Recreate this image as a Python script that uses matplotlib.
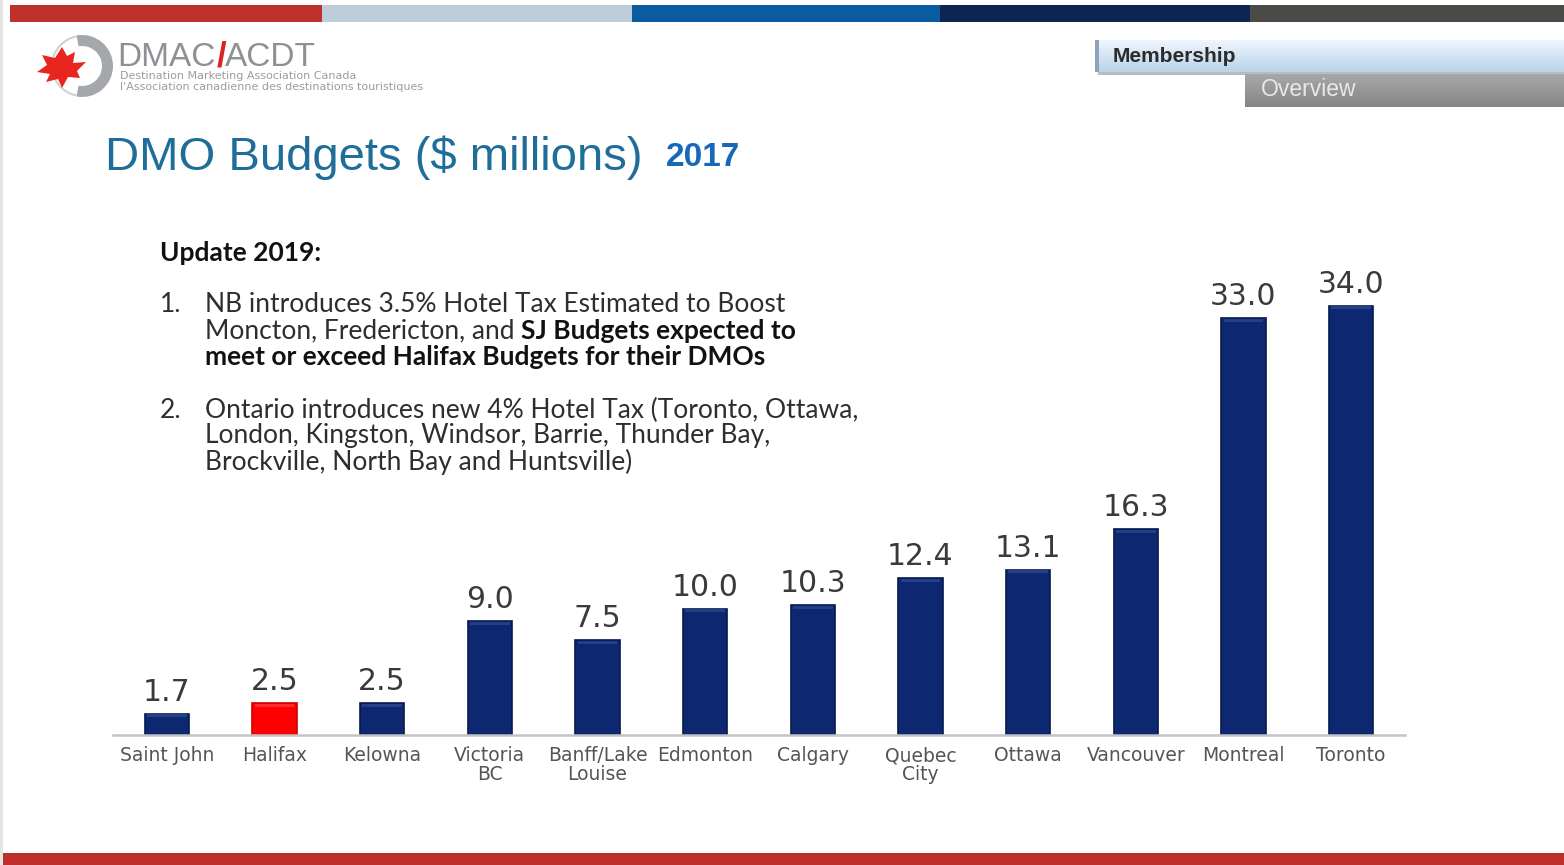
import matplotlib
matplotlib.use("Agg")
import matplotlib.pyplot as plt
from matplotlib.patches import Rectangle, Wedge, Polygon
import numpy as np

# ---- data ----
cities = ["Saint John", "Halifax", "Kelowna", "Victoria\nBC", "Banff/Lake\nLouise",
          "Edmonton", "Calgary", "Quebec\nCity", "Ottawa", "Vancouver", "Montreal", "Toronto"]
budgets = [1.7, 2.5, 2.5, 9.0, 7.5, 10.0, 10.3, 12.4, 13.1, 16.3, 33.0, 34.0]
highlight = "Halifax"

title_text = "DMO Budgets ($ millions)"
year_text = "2017"

W, H = 1564, 865
fig = plt.figure(figsize=(W / 100, H / 100), dpi=100)
fig.patch.set_facecolor("white")

# overlay axes in pixel coordinates
ov = fig.add_axes([0, 0, 1, 1])
ov.set_xlim(0, W)
ov.set_ylim(H, 0)
ov.axis("off")


def right_edge(t):
    fig.canvas.draw()
    bb = t.get_window_extent()
    return ov.transData.inverted().transform((bb.x1, bb.y0))[0]


# top stripe
stripe = [(10, 322, "#C0302C"), (322, 632, "#BFCCD9"), (632, 940, "#0A5CA0"),
          (940, 1250, "#0B2650"), (1250, 1564, "#4A4A46")]
for x0, x1, c in stripe:
    ov.add_patch(Rectangle((x0, 5), x1 - x0, 17, color=c, lw=0))
# bottom stripe
ov.add_patch(Rectangle((3, 853), W - 3, 12, color="#BE2E2A", lw=0))
ov.add_patch(Rectangle((0, 0), 3, H, color="#E4E4E4", lw=0))

# logo: crescent + maple leaf + text
ov.add_patch(Wedge((82, 66), 31, -100, 100, width=11, color="#A4A7AC", lw=0))
ov.add_patch(Wedge((82, 66), 31, 100, 260, width=2, color="#CDD0D3", lw=0))
leaf = np.array([[62, 47], [67, 56], [75, 52], [73, 63], [86, 62], [77, 71], [80, 78],
                 [68, 77], [62, 88], [58, 79], [46, 82], [50, 74], [37, 72], [47, 65],
                 [42, 55], [55, 58]])
ov.add_patch(Polygon(leaf, closed=True, color="#E8261E", lw=0))
t = ov.text(117, 57, "DMAC", fontsize=24, color="#8E9094", family="Liberation Sans",
            va="center", ha="left")
xe = right_edge(t)
t = ov.text(xe + 1, 57, "/", fontsize=25, color="#D8261E", family="Liberation Sans",
            va="center", ha="left", fontweight="bold")
xe = right_edge(t)
ov.text(xe - 1, 57, "ACDT", fontsize=24, color="#8E9094", family="Liberation Sans",
        va="center", ha="left")
ov.text(120, 76, "Destination Marketing Association Canada", fontsize=8,
        color="#9A9CA0", va="center", ha="left", family="Liberation Sans Narrow")
ov.text(120, 87, "l'Association canadienne des destinations touristiques", fontsize=8,
        color="#9A9CA0", va="center", ha="left", family="Liberation Sans Narrow")

# tabs
grad = np.linspace(0, 1, 32).reshape(-1, 1)
ov.add_patch(Rectangle((1098, 72), 466, 3, color="#9AA0A6", lw=0, alpha=0.7))
ov.imshow(grad, extent=(1095, 1564, 72, 40), cmap=matplotlib.colors.LinearSegmentedColormap.from_list(
    "tab", ["#EEF6FD", "#B9D3EA"]), aspect="auto", zorder=2)
ov.add_patch(Rectangle((1095, 40), 4, 32, color="#8FA4B8", lw=0, zorder=3))
ov.text(1113, 56, "Membership", fontsize=15, color="#2B2B2B", va="center", ha="left",
        family="Liberation Sans", fontweight="bold", zorder=4)
ov.imshow(grad, extent=(1245, 1564, 107, 74), cmap=matplotlib.colors.LinearSegmentedColormap.from_list(
    "tab2", ["#A8A8A8", "#858585"]), aspect="auto", zorder=2)
ov.text(1261, 90, "Overview", fontsize=16.5, color="#E8E8E8", va="center", ha="left",
        family="Liberation Sans", zorder=4)

# title
ov.text(105, 158, title_text, fontsize=34, color="#1F6D99", va="center", ha="left",
        family="Liberation Sans")
ov.text(666, 158, year_text, fontsize=24, color="#1668B8", va="center", ha="left",
        family="Liberation Sans", fontweight="bold")

# update notes
tc = "#2E2E2E"
nf = "Lato"
fs = 19
ov.text(160, 253, "Update 2019:", fontsize=fs, color="#111111", va="center", ha="left",
        family=nf, fontweight="bold")
ov.text(160, 305, "1.", fontsize=fs, color=tc, va="center", ha="left", family=nf)
ov.text(205, 305, "NB introduces 3.5% Hotel Tax Estimated to Boost", fontsize=fs, color=tc,
        va="center", ha="left", family=nf)
t1 = ov.text(205, 331, "Moncton, Fredericton, and ", fontsize=fs, color=tc, va="center",
             ha="left", family=nf)
xend = right_edge(t1)
ov.text(xend, 331, "SJ Budgets expected to", fontsize=fs, color="#111111", va="center",
        ha="left", family=nf, fontweight="bold")
ov.text(205, 357, "meet or exceed Halifax Budgets for their DMOs", fontsize=fs,
        color="#111111", va="center", ha="left", family=nf, fontweight="bold")
ov.text(160, 410, "2.", fontsize=fs, color=tc, va="center", ha="left", family=nf)
ov.text(205, 410, "Ontario introduces new 4% Hotel Tax (Toronto, Ottawa,", fontsize=fs,
        color=tc, va="center", ha="left", family=nf)
ov.text(205, 436, "London, Kingston, Windsor, Barrie, Thunder Bay,", fontsize=fs,
        color=tc, va="center", ha="left", family=nf)
ov.text(205, 462, "Brockville, North Bay and Huntsville)", fontsize=fs,
        color=tc, va="center", ha="left", family=nf)

# ---- bar chart ----
left, right, bottom, top = 113, 1405, 735, 255
ax = fig.add_axes([left / W, 1 - bottom / H, (right - left) / W, (bottom - top) / H])
ax.patch.set_alpha(0)
x = np.arange(len(cities))
colors = ["#FF0000" if c == highlight else "#0D2770" for c in cities]
edges = ["#D00000" if c == highlight else "#061A4C" for c in cities]
ax.bar(x, budgets, width=0.41, color=colors, edgecolor=edges, linewidth=1.2, zorder=2)
ax.bar(x, [0.25] * len(x), bottom=np.array(budgets) - 0.3, width=0.37,
       color=["#FF2A2A" if c == highlight else "#233F88" for c in cities], zorder=3)
ax.set_xlim(-0.5, len(cities) - 0.5)
ax.set_ylim(0, 38)
for xi, v in zip(x, budgets):
    ax.annotate(f"{v:.1f}", (xi, v), xytext=(0, 5), textcoords="offset points",
                ha="center", va="bottom", fontsize=21.5, color="#3A3A3A",
                family="DejaVu Sans")
ax.set_xticks(x)
ax.set_xticklabels(cities, fontsize=13.5, color="#555555", family="DejaVu Sans",
                   linespacing=1.0)
ax.tick_params(axis="x", length=0, pad=8)
ax.set_yticks([])
for s in ["top", "right", "left"]:
    ax.spines[s].set_visible(False)
ax.spines["bottom"].set_color("#C4C4C4")
ax.spines["bottom"].set_linewidth(1.8)

fig.savefig("out.png", dpi=100)
